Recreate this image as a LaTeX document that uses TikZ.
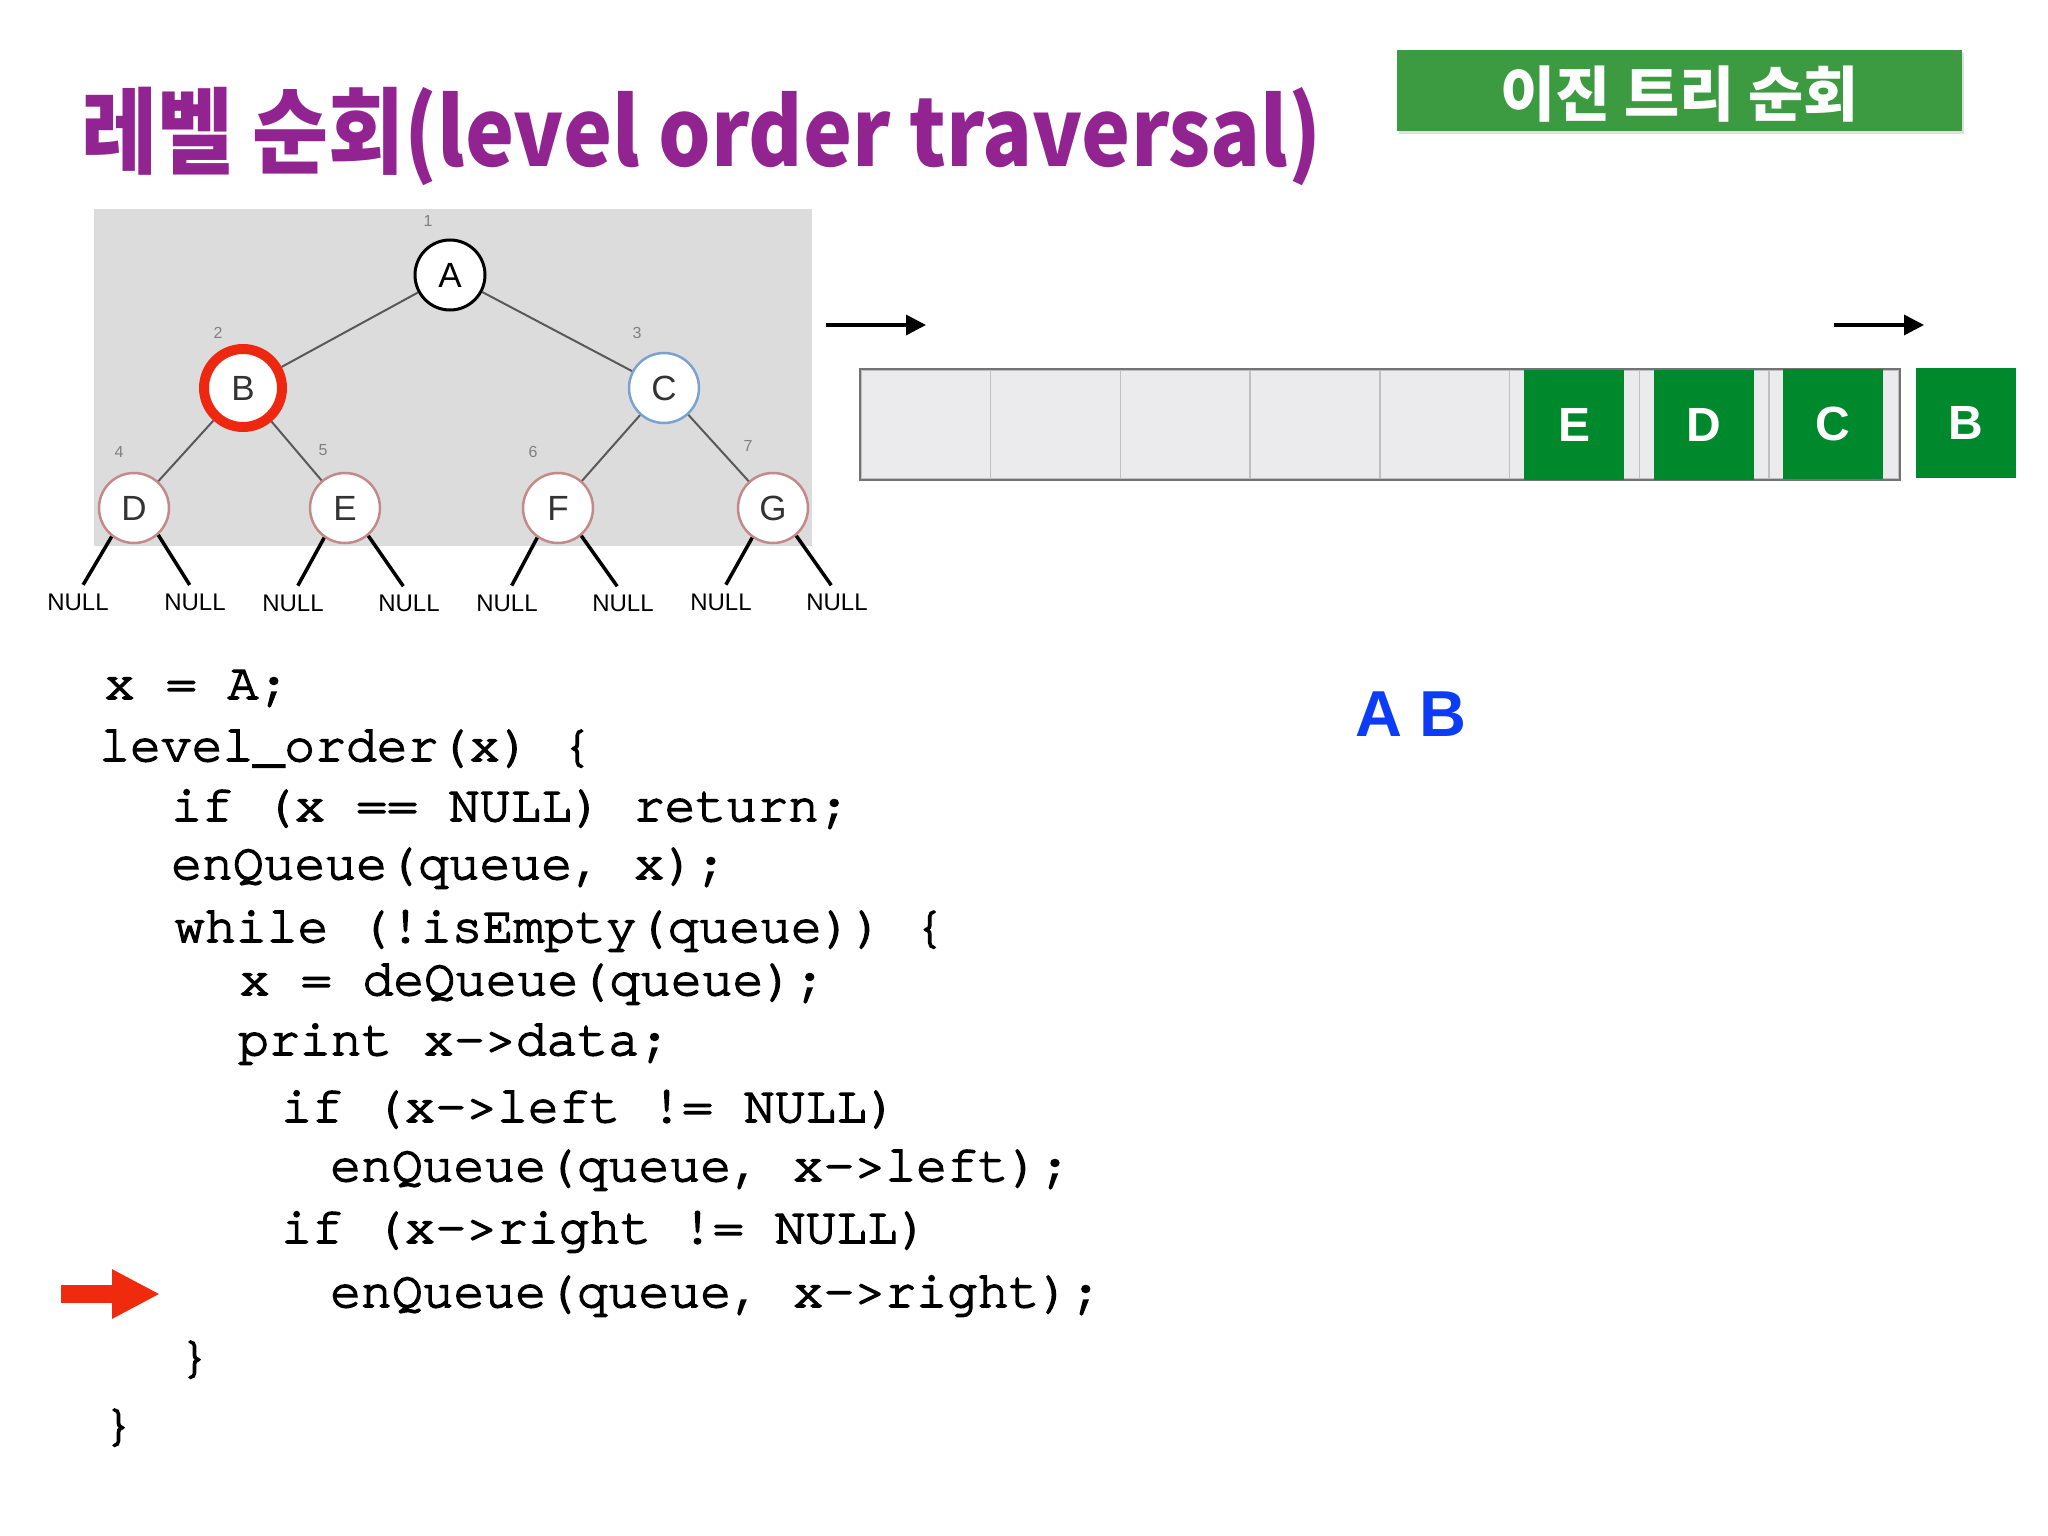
\documentclass[tikz,border=0pt]{standalone}
\usepackage{fontspec}
\usepackage{graphicx}
\usepackage{tikz}
\usetikzlibrary{arrows.meta,positioning,shadows}
\setmainfont{Liberation Sans}
\newfontfamily\krfont{Noto Sans CJK KR}
\newfontfamily\codefont[FakeBold=3]{TeX Gyre Cursor}
\definecolor{titlepurple}{RGB}{146,36,146}
\definecolor{badgegreen}{RGB}{60,154,64}
\definecolor{qgreen}{RGB}{0,137,44}
\definecolor{treebg}{RGB}{221,220,221}
\definecolor{cellgray}{RGB}{235,234,236}
\definecolor{ringred}{RGB}{238,40,16}
\definecolor{ringblue}{RGB}{122,163,212}
\definecolor{ringpink}{RGB}{196,138,138}
\definecolor{outblue}{RGB}{12,60,245}
\definecolor{arrowred}{RGB}{240,42,12}
\tikzset{
    vertex/.style={circle, draw, fill=white, minimum size=70pt, inner sep=0pt, line width=2.5pt, text=black!80, font=\fontsize{35}{40}\selectfont},
    level/.style={text=black!50, inner sep=0pt, font=\fontsize{16}{18}\selectfont},
    nullbox/.style={inner sep=0pt, font=\fontsize{24}{28}\selectfont},
    nulledge/.style={draw, line width=3.5pt, shorten >=10pt},
    edge/.style={draw, black!65, line width=2pt},
    cell/.style={draw=black!25, line width=1.5pt, fill=cellgray, minimum width=129.75pt, minimum height=109pt, inner sep=0pt},
    block/.style={fill=qgreen, text=white, minimum width=100pt, minimum height=110pt, inner sep=0pt, font=\fontsize{48}{52}\selectfont\bfseries},
    flow/.style={draw, line width=3.5pt, -{Triangle[length=20pt,width=20pt]}},
    code/.style={anchor=base west, inner sep=0pt, font=\codefont\fontsize{51.4}{60}\selectfont}
}
\begin{document}
\begin{tikzpicture}[x=1pt, y=-1pt]
    \useasboundingbox (0,0) rectangle (2048,1536);
    \fill[white] (0,0) rectangle (2048,1536);

    % title and badge
    \node[anchor=base west, inner sep=0pt, text=titlepurple, font=\krfont\bfseries\fontsize{94}{100}\selectfont] (title) at (81,166)
        {\scalebox{0.88}[1]{레벨 순회(level order traversal)}};
    \node[fill=badgegreen, minimum width=565pt, minimum height=81pt, inner sep=0pt, drop shadow={opacity=0.25, shadow xshift=2pt, shadow yshift=-3pt}] (badge) at (1679.5,90.5) {};
    \node[text=white, inner sep=0pt, font=\krfont\bfseries\fontsize{60}{64}\selectfont] (badgetext) at (1679.5,94) {이진 트리 순회};

    % tree picture
    \fill[treebg] (94,209) rectangle (812,546);

    % Nodes
    \node[vertex, draw=black, line width=3pt, text=black] (A) at (450,275) {A};
    \node[vertex, draw=ringred, line width=10pt, minimum size=78pt] (B) at (243,388) {B};
    \node[vertex, draw=ringblue] (C) at (664,388) {C};
    \node[vertex, draw=ringpink] (D) at (134,508) {D};
    \node[vertex, draw=ringpink] (E) at (345,508) {E};
    \node[vertex, draw=ringpink] (F) at (558,508) {F};
    \node[vertex, draw=ringpink] (G) at (773,508) {G};

    % level numbers
    \node[level] (l1) at (428,221) {1};
    \node[level] (l2) at (218,333) {2};
    \node[level] (l3) at (637,333) {3};
    \node[level] (l4) at (119,452) {4};
    \node[level] (l5) at (323,450) {5};
    \node[level] (l6) at (533,452) {6};
    \node[level] (l7) at (748,446) {7};

    % edges
    \draw[edge] (A) -- (B);
    \draw[edge] (A) -- (C);
    \draw[edge] (B) -- (D);
    \draw[edge] (B) -- (E);
    \draw[edge] (C) -- (F);
    \draw[edge] (C) -- (G);

    % null children
    \node[nullbox] (n1) at (78,602) {NULL};
    \node[nullbox] (n2) at (195,602) {NULL};
    \node[nullbox] (n3) at (293,603) {NULL};
    \node[nullbox] (n4) at (409,603) {NULL};
    \node[nullbox] (n5) at (507,603) {NULL};
    \node[nullbox] (n6) at (623,603) {NULL};
    \node[nullbox] (n7) at (721,602) {NULL};
    \node[nullbox] (n8) at (837,602) {NULL};
    \draw[nulledge] (D.-128) -- (n1.north);
    \draw[nulledge] (D.-48) -- (n2.north);
    \draw[nulledge] (E.-125) -- (n3.north);
    \draw[nulledge] (E.-50) -- (n4.north);
    \draw[nulledge] (F.-125) -- (n5.north);
    \draw[nulledge] (F.-50) -- (n6.north);
    \draw[nulledge] (G.-125) -- (n7.north);
    \draw[nulledge] (G.-50) -- (n8.north);

    % queue
    \node[cell] (q1) at (925.9,424.5) {};
    \node[cell] (q2) at (1055.6,424.5) {};
    \node[cell] (q3) at (1185.4,424.5) {};
    \node[cell] (q4) at (1315.1,424.5) {};
    \node[cell] (q5) at (1444.9,424.5) {};
    \node[cell] (q6) at (1574.6,424.5) {};
    \node[cell] (q7) at (1704.4,424.5) {};
    \node[cell] (q8) at (1834.1,424.5) {};
    \draw[black!55, line width=2pt] (q1.north west) rectangle (q8.south east);
    \node[block] (qE) at (1574,425) {E};
    \node[block] (qD) at (1704,425) {D};
    \node[block] (qC) at (1833,423.5) {C};
    \node[block] (qB) at (1966,423) {B};

    % front / rear arrows
    \coordinate (rs) at (826,325);
    \coordinate (re) at (926,325);
    \coordinate (fs) at (1834,325);
    \coordinate (fe) at (1924,325);
    \draw[flow] (rs) -- (re);
    \draw[flow] (fs) -- (fe);

    % output
    \node[text=outblue, inner sep=0pt, font=\bfseries\fontsize{65}{70}\selectfont] (out) at (1411,714) {A B};

    % code
    \node[code] (c1) at (104,699) {x = A;};
    \node[code] (c2) at (99,761) {level\_order(x) \{};
    \node[code] (c3) at (171,821) {if (x == NULL) return;};
    \node[code] (c4) at (171,879) {enQueue(queue, x);};
    \node[code] (c5) at (174,942) {while (!isEmpty(queue)) \{};
    \node[code] (c6) at (239,995) {x = deQueue(queue);};
    \node[code] (c7) at (238,1055) {print x->data;};
    \node[code] (c8) at (281,1122) {if (x->left != NULL)};
    \node[code] (c9) at (330,1181) {enQueue(queue, x->left);};
    \node[code] (c10) at (281,1243) {if (x->right != NULL)};
    \node[code] (c11) at (330,1307) {enQueue(queue, x->right);};
    \node[code] (c12) at (179,1372) {\}};
    \node[code] (c13) at (103,1440) {\}};

    % current line marker
    \coordinate (ms) at (61,1294);
    \coordinate (me) at (160,1294);
    \draw[arrowred, line width=18pt, -{Triangle[length=48pt,width=46pt]}] (ms) -- (me);
\end{tikzpicture}
\end{document}
